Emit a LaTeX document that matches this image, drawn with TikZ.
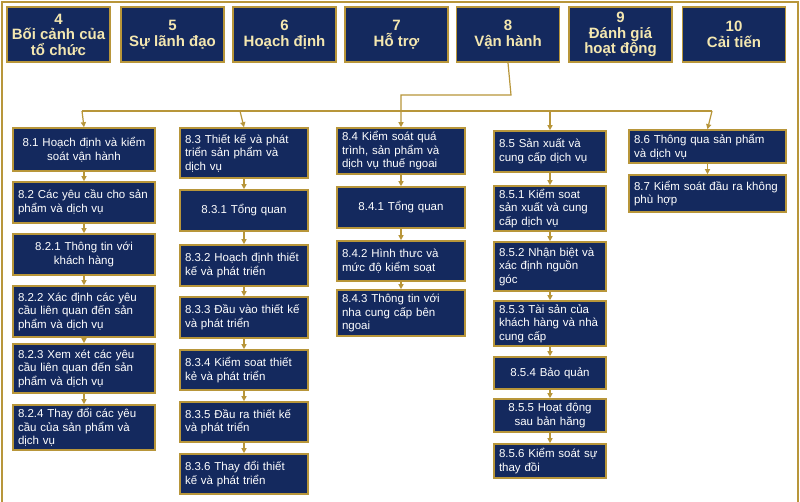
\documentclass[tikz,border=0pt]{standalone}
\usepackage{fontspec}
\setmainfont{Liberation Sans}
\usetikzlibrary{arrows.meta}
\definecolor{navy}{HTML}{14295E}
\definecolor{gold}{HTML}{B8963A}
\definecolor{cream}{HTML}{F4E7B0}
\begin{document}
\begin{tikzpicture}[x=1pt,y=-1pt,
  bx/.style={draw=gold,line width=1.6pt,fill=navy,text=white,font=\fontsize{11.5}{13.5}\selectfont,inner sep=2pt},
  tp/.style={draw=gold,line width=1.6pt,fill=navy,text=cream,font=\bfseries\fontsize{15}{15.5}\selectfont,align=center,minimum width=103pt,minimum height=55pt,inner sep=1pt},
  ln/.style={draw=gold,line width=1.2pt},
  ar/.style={ln,-{Triangle[length=5pt,width=5pt]}}]
\useasboundingbox (0,0) rectangle (800,502);
\fill[white] (0,0) rectangle (800,502);
\draw[gold,line width=1.5pt] (2,502) -- (2,2) -- (798,2) -- (798,502);
% top row
\node[tp] (t4) at (58.5,34.5) {4\\Bối cảnh của\\tổ chức};
\node[tp] (t5) at (172.5,34.5) {5\\Sự lãnh đạo};
\node[tp] (t6) at (284.5,34.5) {6\\Hoạch định};
\node[tp] (t7) at (396.5,34.5) {7\\Hỗ trợ};
\node[tp] (t8) at (508,34.5) {8\\Vận hành};
\node[tp] (t9) at (620.5,34.5) {9\\Đánh giá\\hoạt động};
\node[tp] (t10) at (734,34.5) {10\\Cải tiến};
% boxes: \bxx{name}{x1}{y1}{x2}{y2}{align}{text}
\newcommand{\bxx}[7]{\node[bx,align=#6,minimum width=#4-#2,minimum height=#5-#3,text width=#4-#2-10] (#1) at ({(#2+#4)/2},{(#3+#5)/2}) {#7};}
% col1
\bxx{a1}{13}{128}{155}{171}{center}{8.1 Hoạch định và kiểm\\soát vận hành}
\bxx{a2}{13}{182}{155}{223}{left}{8.2 Các yêu cầu cho sản\\phẩm và dịch vụ}
\bxx{a3}{13}{234}{155}{275}{center}{8.2.1 Thông tin với\\khách hàng}
\bxx{a4}{13}{286}{155}{337}{left}{8.2.2 Xác định các yêu\\cầu liên quan đến sản\\phẩm và dịch vụ}
\bxx{a5}{13}{344}{155}{393}{left}{8.2.3 Xem xét các yêu\\cầu liên quan đến sản\\phẩm và dịch vụ}
\bxx{a6}{13}{405}{155}{450}{left}{8.2.4 Thay đổi các yêu\\cầu của sản phẩm và\\dịch vụ}
% col2
\bxx{b1}{180}{128}{308}{178}{left}{8.3 Thiết kế và phát\\triển sản phẩm và\\dịch vụ}
\bxx{b2}{180}{190}{308}{231}{center}{8.3.1 Tổng quan}
\bxx{b3}{180}{245}{308}{286}{left}{8.3.2 Hoạch định thiết\\kế và phát triển}
\bxx{b4}{180}{297}{308}{338}{left}{8.3.3 Đầu vào thiết kế\\và phát triển}
\bxx{b5}{180}{350}{308}{390}{left}{8.3.4 Kiểm soat thiết\\kẻ và phát triển}
\bxx{b6}{180}{402}{308}{442}{left}{8.3.5 Đầu ra thiết kế\\và phát triển}
\bxx{b7}{180}{454}{308}{494}{left}{8.3.6 Thay đổi thiết\\kế và phát triển}
% col3
\bxx{c1}{337}{128}{465}{174}{left}{8.4 Kiểm soát quá\\trình, sản phẩm và\\dịch vụ thuế ngoai}
\bxx{c2}{337}{187}{465}{228}{center}{8.4.1 Tổng quan}
\bxx{c3}{337}{241}{465}{281}{left}{8.4.2 Hình thưc và\\mức độ kiểm soạt}
\bxx{c4}{337}{290}{465}{336}{left}{8.4.3 Thông tin với\\nha cung cấp bên\\ngoai}
% col4
\bxx{d1}{494}{131}{606}{172}{left}{8.5 Sản xuất và\\cung cấp dịch vụ}
\bxx{d2}{494}{186}{606}{231}{left}{8.5.1 Kiểm soat\\sản xuất và cung\\cấp dịch vụ}
\bxx{d3}{494}{242}{606}{291}{left}{8.5.2 Nhận biệt và\\xác định nguồn\\góc}
\bxx{d4}{494}{301}{606}{346}{left}{8.5.3 Tài sản của\\khách hàng và nhà\\cung cấp}
\bxx{d5}{494}{357}{606}{389}{center}{8.5.4 Bảo quản}
\bxx{d6}{494}{399}{606}{432}{center}{8.5.5 Hoạt động\\sau bản hăng}
\bxx{d7}{494}{444}{606}{478}{left}{8.5.6 Kiểm soát sự\\thay đồi}
% col5
\bxx{e1}{629}{130}{786}{163}{left}{8.6 Thông qua sản phẩm\\và dịch vụ}
\bxx{e2}{629}{175}{786}{212}{left}{8.7 Kiểm soát đầu ra không\\phù hợp}
% connectors
\coordinate (hl) at (82,111);
\coordinate (hr) at (712,111);
\draw[ln] (hl) -- (hr);
\draw[ar] (t8.south) -- (511,95) -| (c1.north);
\draw[ar] (hl) -- (a1.north);
\draw[ar] (240,111) -- (b1.north);
\draw[ar] (550,111) -- (d1.north);
\draw[ar] (hr) -- (e1.north);
\foreach \p/\q in {a1/a2,a2/a3,a3/a4,a4/a5,a5/a6,b1/b2,b2/b3,b3/b4,b4/b5,b5/b6,b6/b7,c1/c2,c2/c3,c3/c4,d1/d2,d2/d3,d3/d4,d4/d5,d5/d6,d6/d7,e1/e2}
  \draw[ar] (\p.south) -- (\q.north);
\end{tikzpicture}
\end{document}
